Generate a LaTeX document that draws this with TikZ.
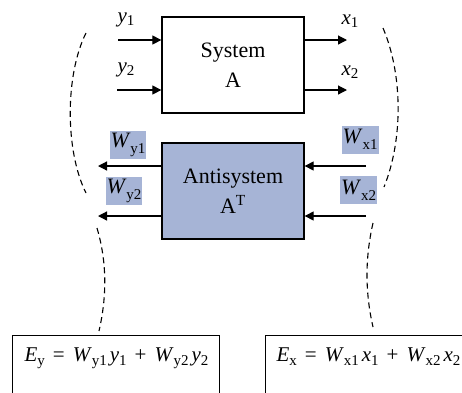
\documentclass[tikz,border=0pt]{standalone}
\usepackage{fontspec}
\setmainfont{Liberation Serif}
\usetikzlibrary{arrows.meta}
\definecolor{antifill}{RGB}{166,180,214}
\newcommand{\lowsub}[2][4pt]{\raisebox{-#1}{\fontsize{15}{15}\selectfont #2}}
\newcommand{\iv}[1]{\textit{#1}}
\newcommand{\opsp}[1]{\hspace{8pt}#1\hspace{8pt}}
\begin{document}
\begin{tikzpicture}[x=1pt,y=-1pt,
  box/.style={draw, line width=1.3pt, inner sep=0pt, align=center,
    minimum width=142pt, minimum height=96pt, font=\fontsize{22}{30}\selectfont},
  arr/.style={line width=1.2pt, -{Triangle[length=9pt,width=9pt]}},
  lbl/.style={inner sep=1pt, font=\fontsize{21}{21}\selectfont},
  hl/.style={lbl, fill=antifill, minimum width=34pt, minimum height=28pt, font=\fontsize{22}{22}\selectfont},
  brace/.style={dash pattern=on 6pt off 4pt, line width=1.1pt},
  eqbox/.style={draw, line width=1.3pt, anchor=north west, minimum height=80pt},
  eqtxt/.style={inner sep=0pt, anchor=base, font=\fontsize{21}{21}\selectfont}
]
\useasboundingbox (0,0) rectangle (462,392);
\clip (0,0) rectangle (462,392);

% boxes
\node[box] (sys) at (233,65) {System\\A};
\node[box, fill=antifill] (anti) at (233,191) {Antisystem\\A\textsuperscript{T}};

% arrows of the system
\coordinate (i1) at (118,40);
\coordinate (i2) at (117,90);
\coordinate (o1) at (347,40);
\coordinate (o2) at (347,90);
\draw[arr] (i1) -- (i1 -| sys.west);
\draw[arr] (i2) -- (i2 -| sys.west);
\draw[arr] (o1 -| sys.east) -- (o1);
\draw[arr] (o2 -| sys.east) -- (o2);

% arrows of the antisystem
\coordinate (wy1) at (98,166);
\coordinate (wy2) at (98,216);
\coordinate (wx1) at (366,166);
\coordinate (wx2) at (366,216);
\draw[arr] (wy1 -| anti.west) -- (wy1);
\draw[arr] (wy2 -| anti.west) -- (wy2);
\draw[arr] (wx1) -- (wx1 -| anti.east);
\draw[arr] (wx2) -- (wx2 -| anti.east);

% labels
\node[lbl] (ly1) at (126,20) {\iv{y}\lowsub[3pt]{1}};
\node[lbl] (ly2) at (126,70) {\iv{y}\lowsub[3pt]{2}};
\node[lbl] (lx1) at (350,21) {\iv{x}\lowsub[3pt]{1}};
\node[lbl] (lx2) at (350,72) {\iv{x}\lowsub[3pt]{2}};
\node[hl] (lwy1) at (128,144.5) {\iv{W}\lowsub[6pt]{y1}};
\node[hl] (lwy2) at (124,190.5) {\iv{W}\lowsub[6pt]{y2}};
\node[hl] (lwx1) at (360,139.5) {\iv{W}\lowsub[6pt]{x1}};
\node[hl] (lwx2) at (358.5,190) {\iv{W}\lowsub[6pt]{x2}};

% dashed braces
\coordinate (la) at (86,33);
\coordinate (lb) at (86,193);
\coordinate (ra) at (383,28);
\coordinate (rb) at (384,187);
\coordinate (lc) at (97,228);
\coordinate (ld) at (99,331);
\coordinate (rc) at (373,223);
\coordinate (rd) at (373,327);
\draw[brace] (la) .. controls (65,75) and (65,151) .. (lb);
\draw[brace] (ra) .. controls (403,75) and (403,140) .. (rb);
\draw[brace] (lc) .. controls (107,262) and (107,296) .. (ld);
\draw[brace] (rc) .. controls (365,258) and (365,292) .. (rd);

% energy boxes
\node[eqbox, minimum width=207pt] (ey) at (12,335) {};
\node[eqbox, minimum width=220pt] (ex) at (265,335) {};
\node[eqtxt] (eyt) at (116.5,361) {\iv{E}\lowsub{y}\opsp{=}\iv{W}\lowsub{y1}\hspace{3pt}\iv{y}\lowsub{1}\opsp{+}\iv{W}\lowsub{y2}\hspace{3pt}\iv{y}\lowsub{2}};
\node[eqtxt] (ext) at (368.5,361) {\iv{E}\lowsub{x}\opsp{=}\iv{W}\lowsub{x1}\hspace{3pt}\iv{x}\lowsub{1}\opsp{+}\iv{W}\lowsub{x2}\hspace{3pt}\iv{x}\lowsub{2}};
\end{tikzpicture}
\end{document}
